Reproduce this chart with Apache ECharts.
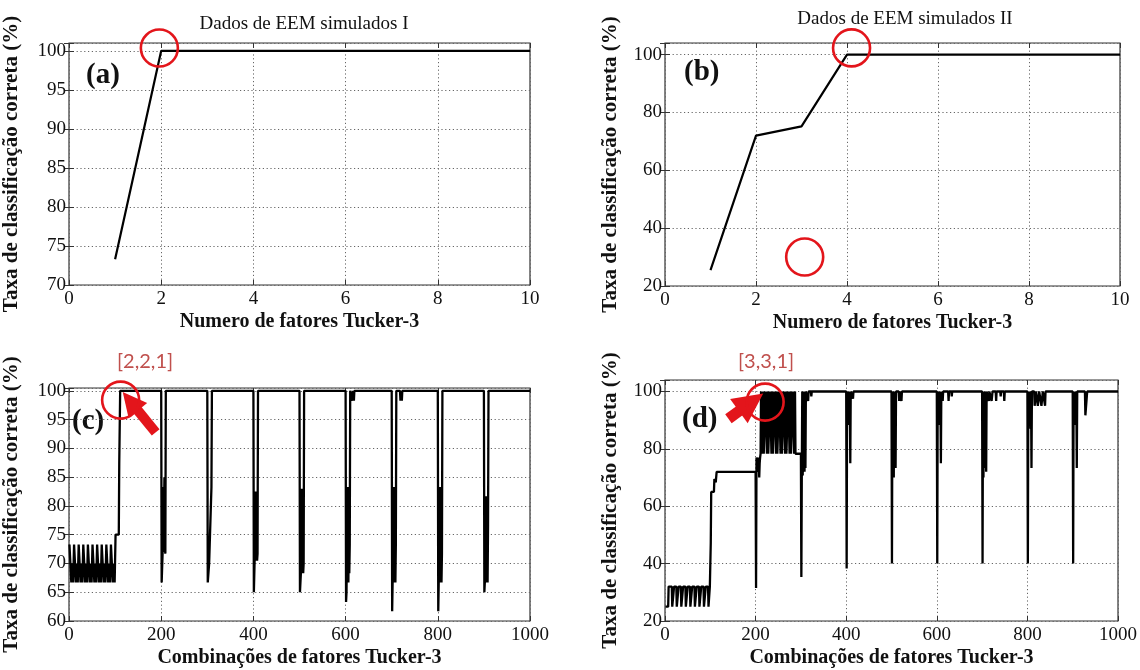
<!DOCTYPE html>
<html><head><meta charset="utf-8">
<script src="https://cdn.jsdelivr.net/npm/echarts@6/dist/echarts.min.js"></script>
<style>html,body{margin:0;padding:0;background:#fff}#c{width:1140px;height:670px}</style>
</head><body><div id="c"></div>
<script>
// ---------- data ----------
const factorsAB = [1,2,3,4,5,6,7,8,9,10];
const rateA = [73.3,100,100,100,100,100,100,100,100,100];
const rateB = [25.5,72,75.2,100,100,100,100,100,100,100];

// panel (c): [combination index, correct classification rate %]
const cB1 = [
 [1,73.3],[4,73.3],[5,66.7],[6,70],[7,66.7],[8,70],[9,66.7],[10,66.7],
 [11,73.3],[14,73.3],[15,66.7],[16,70],[17,66.7],[18,70],[19,66.7],[20,66.7],
 [21,73.3],[24,73.3],[25,66.7],[26,70],[27,66.7],[28,70],[29,66.7],[30,66.7],
 [31,73.3],[34,73.3],[35,66.7],[36,70],[37,66.7],[38,70],[39,66.7],[40,66.7],
 [41,73.3],[44,73.3],[45,66.7],[46,70],[47,66.7],[48,70],[49,66.7],[50,66.7],
 [51,73.3],[54,73.3],[55,66.7],[56,70],[57,66.7],[58,70],[59,66.7],[60,66.7],
 [61,73.3],[64,73.3],[65,66.7],[66,70],[67,66.7],[68,70],[69,66.7],[70,66.7],
 [71,73.3],[74,73.3],[75,66.7],[76,70],[77,66.7],[78,70],[79,66.7],[80,66.7],
 [81,73.3],[84,73.3],[85,66.7],[86,70],[87,66.7],[88,70],[89,66.7],[90,66.7],
 [91,73.3],[94,73.3],[95,66.7],[96,70],[97,66.7],[98,70],[99,66.7],[100,66.7]
];
const cB2 = [[101,75],[108,75],[109,87.5],[110,87.5],[111,100],[200,100]];
const cB3 = [[201,66.7],[202,66.7],[203,71.7],[204,83.3],[205,72],[206,71.7],[207,85],[208,72.5],[209,71.7],[210,100],[300,100]];
const cB4 = [[301,66.7],[303,66.7],[304,70],[308,70],[309,83.3],[310,100],[400,100]];
const cB5 = [[401,65],[402,65],[403,71.7],[404,70.5],[405,82.5],[406,71],[407,72],[408,70.5],[409,71.7],[410,100],[500,100]];
const cB6 = [[501,65],[502,65],[503,68.3],[504,70],[505,83],[506,68.3],[507,70],[508,68.3],[509,70],[510,100],[600,100]];
const cB7 = [[601,63.3],[602,65],[603,75],[604,66.7],[605,83.3],[606,66.7],[607,75],[608,68.3],[609,73.3],[610,100],[614,100],[615,98.3],[616,100],[618,98.3],[619,100],[700,100]];
const cB8 = [[701,61.7],[702,66.7],[703,73.3],[704,66.7],[705,83.3],[706,66.7],[707,71.7],[708,66.7],[709,73.3],[710,100],[718,100],[719,98.3],[720,100],[722,98.3],[723,100],[800,100]];
const cB9 = [[801,61.7],[802,66.7],[803,75],[804,66.7],[805,83.3],[806,66.7],[807,75],[808,66.7],[809,71.7],[810,100],[900,100]];
const cB10 = [[901,65],[902,66.7],[903,76.7],[904,66.7],[905,81.7],[906,66.7],[907,74],[908,66.7],[909,76.7],[910,100],[1000,100]];

// panel (d)
const dB1 = [
 [1,25],[7,25],[8,32],[10,32],
 [11,32],[15,32],[16,25],[19,25],[20,32],
 [21,32],[25,32],[26,25],[29,25],[30,32],
 [31,32],[35,32],[36,25],[39,25],[40,32],
 [41,32],[45,32],[46,25],[49,25],[50,32],
 [51,32],[55,32],[56,25],[59,25],[60,32],
 [61,32],[65,32],[66,25],[69,25],[70,32],
 [71,32],[75,32],[76,25],[79,25],[80,32],
 [81,32],[85,32],[86,25],[89,25],[90,32],
 [91,32],[95,32],[96,25],[98,25],[99,32],[100,32]
];
const dB2 = [[101,47],[102,65],[108,65],[109,69.5],[111,69.5],[112,68.3],[113,68.3],[114,72],[200,72]];
const dB3 = [
 [201,31.5],[202,77],[205,77],[206,72],[207,77],[208,70],[209,75],[210,77],
 [211,78.3],[212,100],[214,100],[215,78.3],[216,89],[217,100],[218,78.3],[220,78.3],
 [221,78.3],[222,100],[224,100],[225,78.3],[226,89],[227,100],[228,78.3],[230,78.3],
 [231,78.3],[232,100],[234,100],[235,78.3],[236,89],[237,100],[238,78.3],[240,78.3],
 [241,78.3],[242,100],[244,100],[245,78.3],[246,89],[247,100],[248,78.3],[250,78.3],
 [251,78.3],[252,100],[254,100],[255,78.3],[256,89],[257,100],[258,78.3],[260,78.3],
 [261,78.3],[262,100],[264,100],[265,78.3],[266,89],[267,100],[268,78.3],[270,78.3],
 [271,78.3],[272,100],[274,100],[275,78.3],[276,89],[277,100],[278,78.3],[280,78.3],
 [281,78.3],[282,100],[284,100],[285,78.3],[286,89],[287,100],[288,78.3],[290,78.3],
 [291,78.3],[300,78.3]
];
const dB4 = [[301,35.3],[302,71],[303,100],[304,70.7],[305,100],[306,73],[307,100],[308,72],[309,100],[310,73.3],[311,100],[315,100],[316,96.7],[317,100],[322,100],[323,98.3],[324,100],[400,100]];
const dB5 = [[401,38.3],[402,100],[403,88.3],[404,100],[405,90],[406,100],[407,88.3],[408,100],[409,75],[410,100],[414,100],[415,97.5],[416,100],[500,100]];
const dB6 = [[501,40],[502,100],[503,88.3],[504,100],[505,70],[506,100],[507,87],[508,100],[509,73.3],[510,100],[516,100],[517,96.7],[518,100],[521,100],[522,96.7],[523,100],[600,100]];
const dB7 = [[601,40],[602,100],[603,88.3],[604,100],[605,89],[606,100],[607,88.3],[608,100],[609,75],[610,100],[612,100],[613,96.7],[614,100],[625,100],[626,96.7],[627,100],[632,100],[633,98.3],[634,100],[700,100]];
const dB8 = [[701,40],[702,100],[703,70],[704,100],[705,88.3],[706,100],[707,73.3],[708,100],[709,72],[710,100],[714,100],[715,96.7],[716,100],[720,100],[721,96.7],[722,98.3],[723,100],[730,100],[731,96.7],[732,100],[740,100],[741,98.3],[742,100],[748,100],[749,96.7],[750,100],[800,100]];
const dB9 = [[801,40],[802,100],[803,88.3],[804,100],[805,89],[806,100],[807,87],[808,100],[809,73.3],[810,100],[815,100],[816,95],[818,95],[819,100],[822,100],[823,95],[825,95],[826,100],[830,100],[831,95],[833,95],[834,100],[838,100],[839,95],[840,100],[900,100]];
const dB10 = [[901,40],[902,100],[903,90],[904,100],[905,88.3],[906,100],[907,89],[908,100],[909,73.3],[910,100],[927,100],[928,91.7],[931,91.7],[932,100],[1000,100]];

const titleA = 'Dados de EEM simulados I';
const titleB = 'Dados de EEM simulados II';
const yName = 'Taxa de classificação correta (%)';
const xNameAB = 'Numero de fatores Tucker-3';
const xNameCD = 'Combinações de fatores Tucker-3';

// ---------- chart ----------
const SERIF = 'Liberation Serif';
const RED = '#e3151b';
const chart = echarts.init(document.getElementById('c'), null, {renderer:'canvas'});

const grids = [
  {left:68, top:43, width:462, height:242},
  {left:665, top:43, width:455, height:243},
  {left:68, top:388, width:462, height:233},
  {left:665, top:380, width:455, height:241}
].map(g => Object.assign({show:true, borderColor:'#333', borderWidth:1.2, backgroundColor:'#fff'}, g));

const yCfg = [
  {min:70, max:101, interval:5},
  {min:20, max:104, interval:20},
  {min:60, max:100.5, interval:5},
  {min:20, max:104, interval:20}
];
const xCfg = [
  {min:0, max:10, interval:2, name:xNameAB},
  {min:0, max:10, interval:2, name:xNameAB},
  {min:0, max:1000, interval:200, name:xNameCD},
  {min:0, max:1000, interval:200, name:xNameCD}
];

const labelStyle = {fontFamily:SERIF, fontSize:19, color:'#111'};
const xNameStyle = {fontFamily:SERIF, fontSize:20, fontWeight:'bold', color:'#111'};
const yNameStyle = {fontFamily:SERIF, fontSize:21, fontWeight:'bold', color:'#111'};
const tick = {show:true, inside:true, length:5, lineStyle:{color:'#333'}};
const split = {show:true, lineStyle:{type:[1.2,2.6], color:'#666', width:1}};

const xAxis = [], yAxis = [];
for (let i = 0; i < 4; i++) {
  const xc = xCfg[i], yc = yCfg[i];
  xAxis.push({type:'value', gridIndex:i, min:xc.min, max:xc.max, interval:xc.interval,
    name:xc.name, nameLocation:'middle', nameGap:27, nameTextStyle:xNameStyle,
    axisLine:{show:false}, axisTick:tick, splitLine:split,
    axisLabel:Object.assign({margin:5, formatter:v => String(v)}, labelStyle)});
  xAxis.push({type:'value', gridIndex:i, position:'top', min:xc.min, max:xc.max, interval:xc.interval,
    axisLine:{show:false}, axisTick:tick, splitLine:{show:false}, axisLabel:{show:false}});
  yAxis.push({type:'value', gridIndex:i, min:yc.min, max:yc.max, interval:yc.interval,
    name:yName, nameLocation:'middle', nameRotate:90, nameGap:(i%2? 44:47), nameTextStyle:yNameStyle,
    axisLine:{show:false}, axisTick:tick, splitLine:split,
    axisLabel:Object.assign({margin:3, formatter:v => (v % yc.interval === 0 ? String(v) : '')}, labelStyle)});
  yAxis.push({type:'value', gridIndex:i, position:'right', min:yc.min, max:yc.max, interval:yc.interval,
    axisLine:{show:false}, axisTick:tick, splitLine:{show:false}, axisLabel:{show:false}});
}

const circleStyle = {color:'rgba(0,0,0,0)', borderColor:RED, borderWidth:2.6};
function circles(coords) {
  return {symbol:'circle', symbolSize:37, silent:true, itemStyle:circleStyle, label:{show:false},
    data:coords.map(c => ({coord:c}))};
}
function arrow(from, to, w, head) {
  return {silent:true, symbol:['none','triangle'], symbolSize:[head, head],
    lineStyle:{color:RED, width:w, type:'solid'}, label:{show:false},
    data:[[{coord:from},{coord:to}]]};
}

const lineBase = {type:'line', showSymbol:false, animation:false, silent:true, clip:true};
const series = [
  Object.assign({}, lineBase, {xAxisIndex:0, yAxisIndex:0, data:factorsAB.map((f,k)=>[f, rateA[k]]),
    lineStyle:{color:'#000', width:2.2}, markPoint:circles([[1.96,100.35]])}),
  Object.assign({}, lineBase, {xAxisIndex:2, yAxisIndex:2, data:factorsAB.map((f,k)=>[f, rateB[k]]),
    lineStyle:{color:'#000', width:2.2}, markPoint:circles([[4.1,102.3],[3.07,30]])}),
  Object.assign({}, lineBase, {xAxisIndex:4, yAxisIndex:4,
    data:[].concat(cB1,cB2,cB3,cB4,cB5,cB6,cB7,cB8,cB9,cB10),
    lineStyle:{color:'#000', width:2.3}, markPoint:circles([[112,98.4]]),
    markLine:arrow([188,92.8],[133,98.2],10,24)}),
  Object.assign({}, lineBase, {xAxisIndex:6, yAxisIndex:6,
    data:[].concat(dB1,dB2,dB3,dB4,dB5,dB6,dB7,dB8,dB9,dB10),
    lineStyle:{color:'#000', width:2.3}, markPoint:circles([[221,96.3]]),
    markLine:arrow([140,90.5],[190,96.2],11,30)})
];

const titleStyle = {fontFamily:SERIF, fontSize:19, fontWeight:'normal', color:'#111'};
const letterStyle = {fontFamily:SERIF, fontSize:29, fontWeight:'bold', fill:'#111'};
const tagStyle = {fontFamily:'Lato', fontSize:20, fill:'#c0504d'};

chart.setOption({
  backgroundColor:'#fff',
  animation:false,
  title:[
    {text:titleA, left:299, top:10, textAlign:'center', textStyle:titleStyle},
    {text:titleB, left:900, top:5, textAlign:'center', textStyle:titleStyle}
  ],
  grid:grids, xAxis:xAxis, yAxis:yAxis, series:series,
  graphic:[
    {type:'text', left:86, top:61, style:Object.assign({text:'(a)'}, letterStyle)},
    {type:'text', left:684, top:58, style:Object.assign({text:'(b)'}, letterStyle)},
    {type:'text', left:72, top:407, style:Object.assign({text:'(c)'}, letterStyle)},
    {type:'text', left:682, top:405, style:Object.assign({text:'(d)'}, letterStyle)},
    {type:'text', left:117, top:352, style:Object.assign({text:'[2,2,1]'}, tagStyle)},
    {type:'text', left:738, top:352, style:Object.assign({text:'[3,3,1]'}, tagStyle)}
  ]
});
</script></body></html>
